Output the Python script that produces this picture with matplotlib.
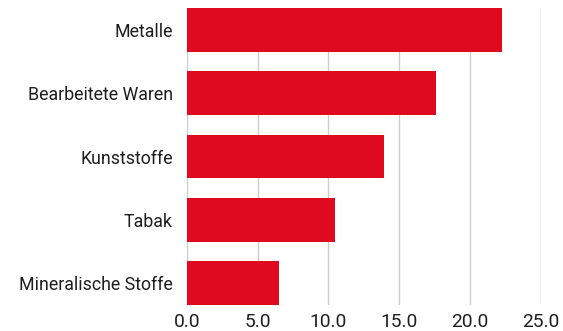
import matplotlib.pyplot as plt

categories = ["Metalle", "Bearbeitete Waren", "Kunststoffe", "Tabak", "Mineralische Stoffe"]
values = [22.3, 17.6, 13.9, 10.5, 6.5]
ticks = [0, 5, 10, 15, 20, 25]

plt.rcParams["font.family"] = ["Roboto", "DejaVu Sans"]

fig = plt.figure(figsize=(5.63, 3.31), dpi=100)
ax = fig.add_axes([0.3317, 0.0785, 0.9604 - 0.3317, 0.9758 - 0.0785])

pos = list(range(len(categories)))
ax.barh(pos, values, height=0.695, color="#DF0A1F", zorder=3)
ax.set_yticks(pos)
ax.set_yticklabels(categories)
ax.set_ylim(len(categories) - 1 + 0.3475, -0.3475)

ax.set_xlim(0, 25)
ax.set_xticks(ticks)
ax.set_xticklabels([f"{t:.1f}" for t in ticks])
ax.xaxis.grid(True, color="#cccccc", linewidth=1.0, zorder=0)

for s in ax.spines.values():
    s.set_visible(False)
ax.tick_params(axis="y", length=0, pad=10, labelsize=12.8, labelcolor="#1e1e1e")
ax.tick_params(axis="x", length=0, pad=6, labelsize=13.8, labelcolor="#1e1e1e")

fig.savefig("out.png", dpi=100)
